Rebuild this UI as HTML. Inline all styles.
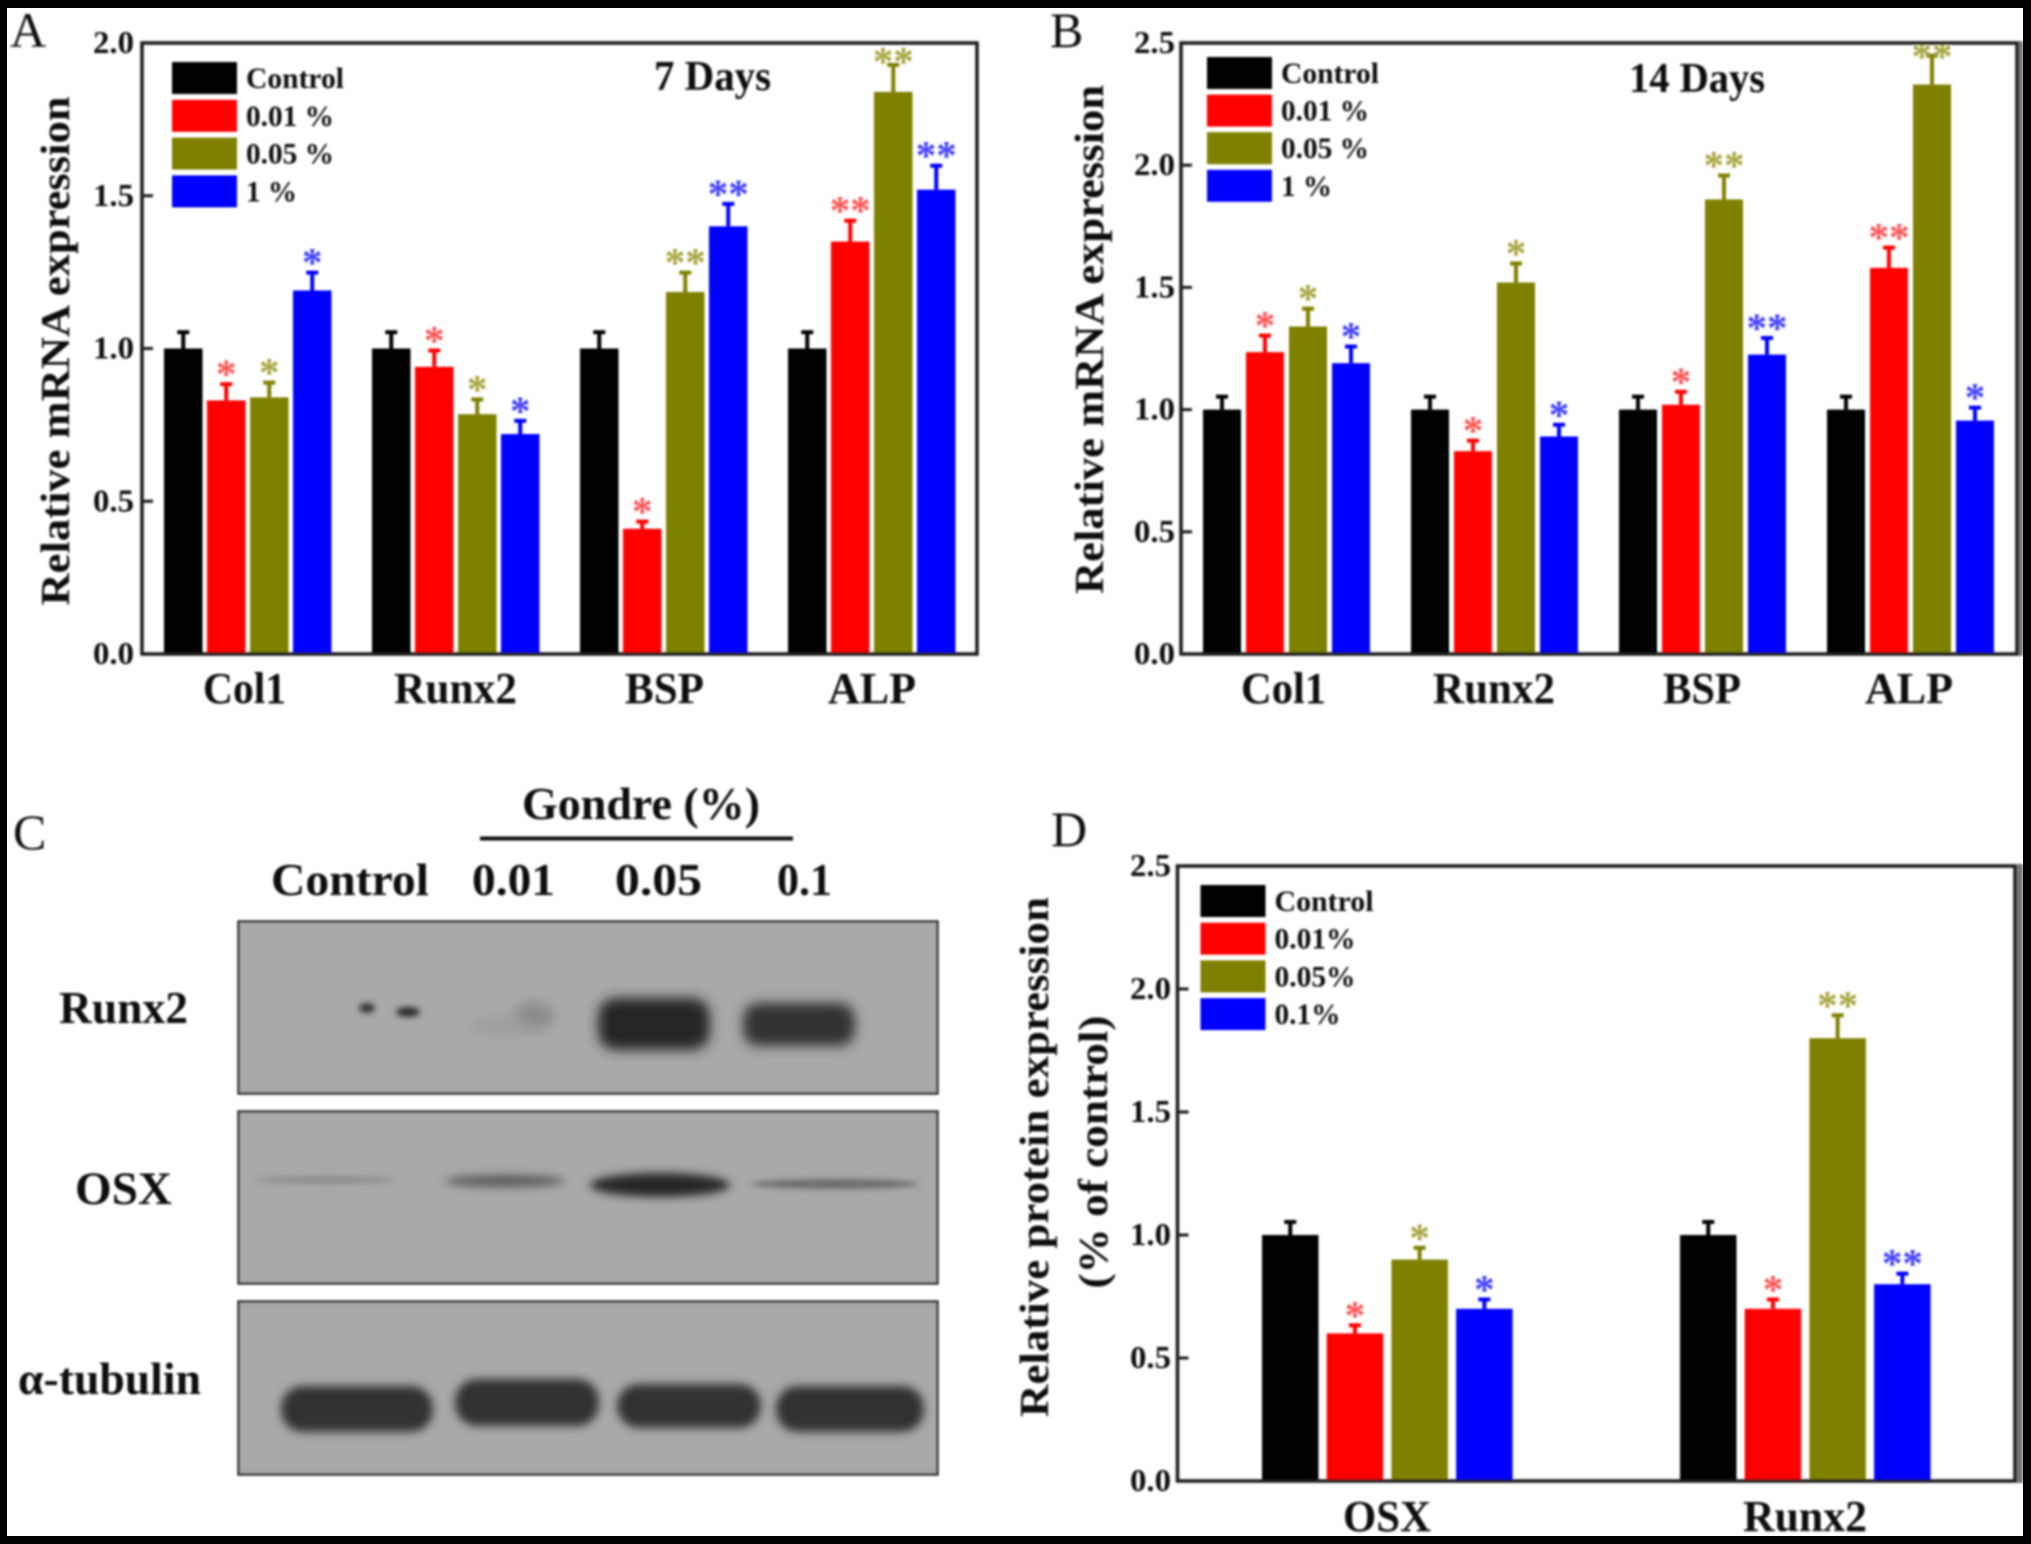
<!DOCTYPE html>
<html lang="en">
<head>
<meta charset="utf-8">
<title>Relative expression figure</title>
<style>
html,body{margin:0;padding:0;background:#000;width:2031px;height:1544px;overflow:hidden}
svg{display:block}
text{font-family:"Liberation Serif",serif;font-weight:700;fill:#111}
</style>
</head>
<body>
<svg id="fig" xmlns="http://www.w3.org/2000/svg" width="2031" height="1544" viewBox="0 0 2031 1544">
<defs>
<filter id="soft" x="-2%" y="-2%" width="104%" height="104%"><feGaussianBlur stdDeviation="1"/></filter>
<filter id="b3" x="-50%" y="-100%" width="200%" height="300%"><feGaussianBlur stdDeviation="3"/></filter>
<filter id="b4" x="-50%" y="-100%" width="200%" height="300%"><feGaussianBlur stdDeviation="4.5"/></filter>
<filter id="b6" x="-50%" y="-100%" width="200%" height="300%"><feGaussianBlur stdDeviation="6"/></filter>
<clipPath id="pageClip"><rect x="7" y="8" width="2016" height="1528"/></clipPath>
</defs>
<rect x="7" y="8" width="2016" height="1528" fill="#fff"/>
<g id="root" clip-path="url(#pageClip)"><g id="soft-layer" filter="url(#soft)">

<g>
  <text x="13" y="849" font-size="50" style="font-weight:400">C</text>
  <text x="522" y="819" font-size="46" textLength="238" lengthAdjust="spacingAndGlyphs">Gondre (%)</text>
  <rect x="480" y="836.5" width="313" height="4" fill="#111"/>
  <text x="271" y="895" font-size="46" textLength="158" lengthAdjust="spacingAndGlyphs">Control</text>
  <text x="472" y="895" font-size="46" textLength="83" lengthAdjust="spacingAndGlyphs">0.01</text>
  <text x="615" y="895" font-size="46" textLength="87" lengthAdjust="spacingAndGlyphs">0.05</text>
  <text x="777" y="895" font-size="46" textLength="55" lengthAdjust="spacingAndGlyphs">0.1</text>
  <text x="59" y="1023" font-size="46" textLength="129" lengthAdjust="spacingAndGlyphs">Runx2</text>
  <text x="75" y="1204" font-size="47" textLength="97" lengthAdjust="spacingAndGlyphs">OSX</text>
  <text x="18" y="1394" font-size="45" textLength="183" lengthAdjust="spacingAndGlyphs">α-tubulin</text>

  <g>
    <rect x="238.5" y="921.5" width="699" height="172" fill="#a9a9a9" stroke="#333" stroke-width="2.5"/>
    <ellipse cx="367" cy="1008" rx="8" ry="5" fill="#333" filter="url(#b3)"/>
    <ellipse cx="408" cy="1012" rx="12" ry="5" fill="#2c2c2c" filter="url(#b3)"/>
    <ellipse cx="534" cy="1016" rx="20" ry="14" fill="#8b8b8b" filter="url(#b6)"/>
    <ellipse cx="500" cy="1026" rx="30" ry="8" fill="#9c9c9c" filter="url(#b6)"/>
    <rect x="598" y="998" width="112" height="52" rx="18" fill="#262626" filter="url(#b6)"/>
    <rect x="743" y="1003" width="112" height="43" rx="16" fill="#303030" filter="url(#b6)"/>
  </g>
  <g>
    <rect x="238.5" y="1111.5" width="699" height="172" fill="#a9a9a9" stroke="#333" stroke-width="2.5"/>
    <ellipse cx="325" cy="1180" rx="70" ry="4" fill="#8e8e8e" filter="url(#b3)"/>
    <ellipse cx="505" cy="1181" rx="60" ry="6" fill="#5a5a5a" filter="url(#b4)"/>
    <ellipse cx="660" cy="1185" rx="70" ry="12" fill="#262626" filter="url(#b4)"/>
    <ellipse cx="835" cy="1184" rx="84" ry="5" fill="#6b6b6b" filter="url(#b3)"/>
  </g>
  <g>
    <rect x="238.5" y="1301.5" width="699" height="173" fill="#a9a9a9" stroke="#333" stroke-width="2.5"/>
    <rect x="281" y="1386" width="152" height="46" rx="22" fill="#303030" filter="url(#b4)"/>
    <rect x="455" y="1379" width="144" height="47" rx="22" fill="#303030" filter="url(#b4)"/>
    <rect x="617" y="1384" width="144" height="44" rx="22" fill="#303030" filter="url(#b4)"/>
    <rect x="776" y="1386" width="148" height="46" rx="22" fill="#303030" filter="url(#b4)"/>
  </g>
</g>
</g></g>
</svg>
<script>
// Shared categories and series
const geneCategories = ['Col1', 'Runx2', 'BSP', 'ALP'];
const proteinCategories = ['OSX', 'Runx2'];
const seriesColors = ['#000000', '#ff0000', '#808000', '#0000ff'];
const starColors = ['#000000', '#ff5252', '#a6a640', '#4040ff'];
const mrnaLegend = ['Control', '0.01 %', '0.05 %', '1 %'];
const proteinLegend = ['Control', '0.01%', '0.05%', '0.1%'];
const ticksTo2 = ['0.0', '0.5', '1.0', '1.5', '2.0'];
const ticksTo25 = ['0.0', '0.5', '1.0', '1.5', '2.0', '2.5'];

// Panel A: 7 days (one row per category, one column per series)
const valuesA = [[1, 0.83, 0.84, 1.19], [1, 0.94, 0.785, 0.72], [1, 0.41, 1.185, 1.40], [1, 1.35, 1.84, 1.52]];
const errorsA = [[0.055, 0.055, 0.05, 0.06], [0.055, 0.055, 0.05, 0.045], [0.055, 0.025, 0.065, 0.075], [0.055, 0.07, 0.09, 0.08]];
const starsA = [[0, 1, 1, 1], [0, 1, 1, 1], [0, 1, 2, 2], [0, 2, 2, 2]];

// Panel B: 14 days
const valuesB = [[1, 1.235, 1.34, 1.19], [1, 0.83, 1.52, 0.89], [1, 1.02, 1.86, 1.225], [1, 1.58, 2.33, 0.955]];
const errorsB = [[0.055, 0.07, 0.075, 0.07], [0.055, 0.045, 0.08, 0.05], [0.055, 0.055, 0.1, 0.07], [0.055, 0.085, 0.12, 0.055]];
const starsB = [[0, 1, 1, 1], [0, 1, 1, 1], [0, 1, 2, 2], [0, 2, 2, 1]];

// Panel D: protein
const valuesD = [[1, 0.6, 0.9, 0.7], [1, 0.7, 1.8, 0.8]];
const errorsD = [[0.055, 0.035, 0.05, 0.04], [0.055, 0.04, 0.095, 0.045]];
const starsD = [[0, 1, 1, 1], [0, 1, 2, 2]];

const NS = 'http://www.w3.org/2000/svg';
const host = document.getElementById('soft-layer');

function mk(parent, tag, attrs, txt) {
  const el = document.createElementNS(NS, tag);
  for (const k in attrs) el.setAttribute(k, attrs[k]);
  if (txt !== undefined) el.textContent = txt;
  parent.appendChild(el);
  return el;
}

function drawChart(c) {
  const g = mk(host, 'g', {});
  
  
  const yScale = v => c.bottom - (v / c.yMax) * (c.bottom - c.top);
  const xScale = (gi, si) => c.firstBar + gi * c.groupStep + si * c.barStep;

  const panelLabel = mk(g, 'text', {x: c.labelX, y: c.labelY, 'font-size': 50, style: 'font-weight:400'}, c.label);
  
  

  c.values.forEach((row, gi) => {
    row.forEach((v, si) => {
      const x = xScale(gi, si);
      const cx = x + c.barW / 2;
      const top = yScale(v);
      const errTop = yScale(v + c.errors[gi][si]);

      const bar = mk(g, 'rect', {x: x, y: top, width: c.barW, height: yScale(0) - top, fill: seriesColors[si]});
      
      

      const stem = mk(g, 'rect', {x: cx - 2, y: errTop, width: 4, height: top - errTop, fill: seriesColors[si]});
      
      

      const cap = mk(g, 'rect', {x: cx - 6, y: errTop - 1.5, width: 12, height: 4, fill: seriesColors[si]});
      
      

      const n = c.stars[gi][si];
      if (n > 0) {
        const centre = Math.max(errTop - 15, c.top + c.starClamp);
        const star = mk(g, 'text', {x: cx, y: centre + 19, 'font-size': 41, 'text-anchor': 'middle', style: 'fill:' + starColors[si]}, '*'.repeat(n));
        
        
      }
    });
  });

  if (c.edgeStrip) {
    const strip = mk(g, 'rect', {x: c.right, y: c.top - 2, width: c.edgeStrip, height: c.bottom - c.top + 4, fill: '#777'});
    
    
  }

  const frame = mk(g, 'rect', {x: c.left, y: c.top, width: c.right - c.left, height: c.bottom - c.top, fill: 'none', stroke: '#1a1a1a', 'stroke-width': 3.5});
  
  

  c.ticks.forEach(t => {
    const y = yScale(parseFloat(t));
    const tick = mk(g, 'rect', {x: c.left, y: y - 1.5, width: 11, height: 3, fill: '#1a1a1a'});
    
    
    const lab = mk(g, 'text', {x: c.tickRight - 41, y: y + 10, 'font-size': 32, textLength: 41, lengthAdjust: 'spacingAndGlyphs'}, t);
    
    
  });

  c.categories.forEach((name, gi) => {
    const lab = mk(g, 'text', {x: c.catX[gi], y: c.catY, 'font-size': 44, textLength: c.catW[gi], lengthAdjust: 'spacingAndGlyphs'}, name);
    
    
  });

  c.yTitles.forEach(line => {
    const t = mk(g, 'text', {x: 0, y: 0, 'font-size': 41, 'text-anchor': 'middle', textLength: line.len, lengthAdjust: 'spacingAndGlyphs', transform: 'translate(' + line.x + ',' + line.y + ') rotate(-90)'}, line.text);
    
    
  });

  if (c.title) {
    const t = mk(g, 'text', {x: c.title.x, y: c.title.y, 'font-size': 42, textLength: c.title.len, lengthAdjust: 'spacingAndGlyphs'}, c.title.text);
    
    
  }

  c.legendNames.forEach((name, i) => {
    const sy = c.legend.y + i * c.legend.step;
    const sw = mk(g, 'rect', {x: c.legend.x, y: sy, width: 65, height: 32, fill: seriesColors[i]});
    
    
    const t = mk(g, 'text', {x: c.legend.x + 74, y: sy + 26, 'font-size': 30, textLength: c.legend.widths[i], lengthAdjust: 'spacingAndGlyphs'}, name);
    
    
  });
}

drawChart({
  id: 'panel-a', label: 'A', labelX: 10, labelY: 47,
  categories: geneCategories, values: valuesA, errors: errorsA, stars: starsA,
  left: 142, right: 977, top: 43, bottom: 654, yMax: 2, ticks: ticksTo2, tickRight: 134,
  firstBar: 164, groupStep: 208, barStep: 43, barW: 38.5, starClamp: 13, edgeStrip: 0,
  catX: [203, 394, 625, 828], catW: [83, 123, 79, 88], catY: 703,
  yTitles: [{text: 'Relative mRNA expression', x: 69, y: 351, len: 509}],
  title: {text: '7 Days', x: 654, y: 90, len: 117},
  legendNames: mrnaLegend, legend: {x: 172, y: 62, step: 37.8, widths: [98, 88, 88, 51]}
});

drawChart({
  id: 'panel-b', label: 'B', labelX: 1050, labelY: 47,
  categories: geneCategories, values: valuesB, errors: errorsB, stars: starsB,
  left: 1181, right: 2017, top: 43, bottom: 654, yMax: 2.5, ticks: ticksTo25, tickRight: 1175,
  firstBar: 1203, groupStep: 208, barStep: 43, barW: 38, starClamp: 8, edgeStrip: 6,
  catX: [1241, 1433, 1663, 1865], catW: [85, 122, 78, 88], catY: 703,
  yTitles: [{text: 'Relative mRNA expression', x: 1103, y: 339.5, len: 509}],
  title: {text: '14 Days', x: 1629, y: 92, len: 136},
  legendNames: mrnaLegend, legend: {x: 1207, y: 57, step: 37.6, widths: [98, 88, 88, 51]}
});

drawChart({
  id: 'panel-d', label: 'D', labelX: 1051, labelY: 846,
  categories: proteinCategories, values: valuesD, errors: errorsD, stars: starsD,
  left: 1177.5, right: 2015, top: 866, bottom: 1481, yMax: 2.5, ticks: ticksTo25, tickRight: 1171,
  firstBar: 1262, groupStep: 418, barStep: 64.7, barW: 56.5, starClamp: 8, edgeStrip: 8,
  catX: [1343, 1743], catW: [88, 124], catY: 1531,
  yTitles: [
    {text: 'Relative protein expression', x: 1048, y: 1157, len: 520},
    {text: '(% of control)', x: 1107, y: 1152, len: 273}
  ],
  title: null,
  legendNames: proteinLegend, legend: {x: 1200.5, y: 885, step: 37.7, widths: [99, 81, 81, 66]}
});
</script>
</body>
</html>
